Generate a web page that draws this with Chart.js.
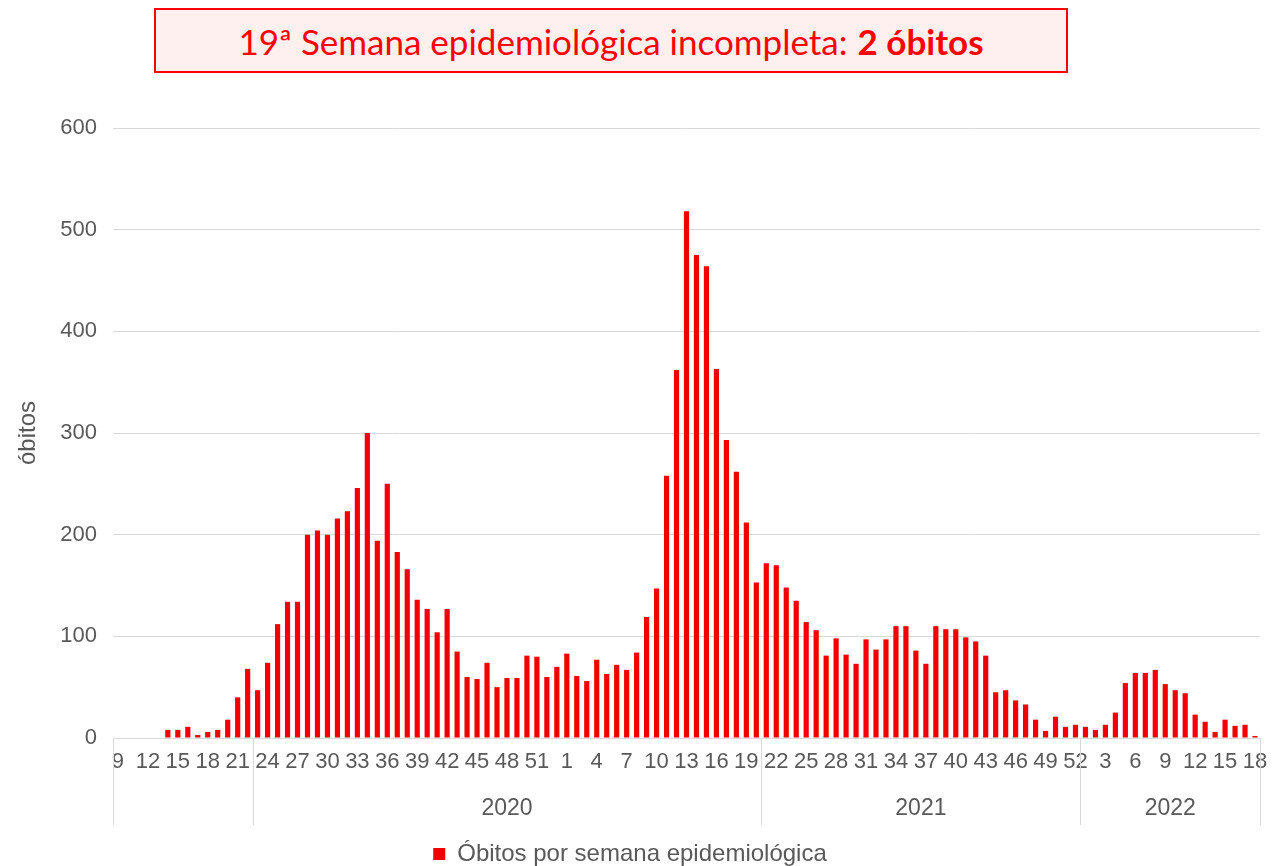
<!DOCTYPE html>
<html>
<head>
<meta charset="utf-8">
<script src="https://cdn.jsdelivr.net/npm/chart.js@4.4.0/dist/chart.umd.min.js"></script>
<style>
  html, body { margin: 0; padding: 0; background: #ffffff; overflow: hidden; }
  #wrap { position: relative; width: 1275px; height: 866px; }
  #c { position: absolute; left: 0; top: 0; }
  #titlebox {
    position: absolute; left: 154px; top: 8px; width: 914px; height: 65px;
    box-sizing: border-box; border: 2px solid #ff0000; background: #fff0f0;
    color: #ff0000; font-family: Lato, "Open Sans", sans-serif; font-size: 35px;
    display: flex; align-items: center; justify-content: center; white-space: nowrap;
  }
  #titlebox b { font-weight: 700; margin-left: 10px; }
</style>
</head>
<body>
<div id="wrap">
  <canvas id="c" width="1275" height="866"></canvas>
  <div id="titlebox"><span>19ª Semana epidemiológica incompleta:</span><b>2 óbitos</b></div>
</div>
<script>
// ---- Data ----
// Group 1 (no year label): 2020 weeks 9-22
const weeksA  = [9,10,11,12,13,14,15,16,17,18,19,20,21,22];
const valuesA = [0,0,0,0,0,8,8,11,3,6,8,18,40,68];
// Group "2020": 2020 weeks 23-53 and 2021 weeks 1-20
const weeksB  = [23,24,25,26,27,28,29,30,31,32,33,34,35,36,37,38,39,40,41,42,43,44,45,46,47,48,49,50,51,52,53,
                 1,2,3,4,5,6,7,8,9,10,11,12,13,14,15,16,17,18,19,20];
const valuesB = [47,74,112,134,134,200,204,200,216,223,246,300,194,250,183,166,136,127,104,127,85,60,58,74,50,59,59,81,80,60,70,
                 83,61,56,77,63,72,67,84,119,147,258,362,518,475,464,363,293,262,212,153];
// Group "2021": 2021 weeks 21-52
const weeksC  = [21,22,23,24,25,26,27,28,29,30,31,32,33,34,35,36,37,38,39,40,41,42,43,44,45,46,47,48,49,50,51,52];
const valuesC = [172,170,148,135,114,106,81,98,82,73,97,87,97,110,110,86,73,110,107,107,99,95,81,45,47,37,33,18,7,21,11,13];
// Group "2022": 2022 weeks 1-18
const weeksD  = [1,2,3,4,5,6,7,8,9,10,11,12,13,14,15,16,17,18];
const valuesD = [11,8,13,25,54,64,64,67,53,47,44,23,16,6,18,12,13,2];

const groupLabels = ['', '2020', '2021', '2022'];
const groupWeeks  = [weeksA, weeksB, weeksC, weeksD];

const yTicks = [0, 100, 200, 300, 400, 500, 600];
const seriesName = 'Óbitos por semana epidemiológica';
const yTitle = 'óbitos';

const categories = [].concat(weeksA, weeksB, weeksC, weeksD).map(String);
const obitos = [].concat(valuesA, valuesB, valuesC, valuesD);

const FONT = '"Liberation Sans", Arial, sans-serif';
const GREY = '#595959';
const GRID = '#d9d9d9';
const RED = '#f20000';

const groupPlugin = {
  id: 'yearGroups',
  afterDraw(chart) {
    const xs = chart.scales.x, ca = chart.chartArea, ctx = chart.ctx;
    const total = categories.length;
    const bounds = [ca.left];
    let idx = 0;
    groupWeeks.forEach(w => {
      idx += w.length;
      if (idx >= total) bounds.push(ca.right);
      else bounds.push((xs.getPixelForValue(idx - 1) + xs.getPixelForValue(idx)) / 2);
    });
    ctx.save();
    ctx.strokeStyle = GRID; ctx.lineWidth = 1;
    bounds.forEach(b => {
      const xx = Math.round(b) + 0.5;
      ctx.beginPath(); ctx.moveTo(xx, ca.bottom); ctx.lineTo(xx, ca.bottom + 87); ctx.stroke();
    });
    ctx.fillStyle = GREY; ctx.font = '23px ' + FONT;
    ctx.textAlign = 'center'; ctx.textBaseline = 'middle';
    groupLabels.forEach((l, i) => { if (l) ctx.fillText(l, (bounds[i] + bounds[i + 1]) / 2, ca.bottom + 71); });
    ctx.restore();
  }
};

new Chart(document.getElementById('c'), {
  type: 'bar',
  data: {
    labels: categories,
    datasets: [{
      label: seriesName,
      data: obitos,
      backgroundColor: RED,
      borderWidth: 0,
      categoryPercentage: 1.0,
      barPercentage: 0.52
    }]
  },
  options: {
    responsive: false,
    animation: false,
    devicePixelRatio: 1,
    layout: { padding: { top: 128, right: 15, bottom: -10, left: 0 } },
    plugins: {
      legend: {
        position: 'bottom',
        labels: { boxWidth: 12, boxHeight: 12, color: GREY, font: { family: FONT, size: 24 }, padding: 10 }
      },
      title: { display: false },
      tooltip: { enabled: false }
    },
    scales: {
      x: {
        grid: { display: false, drawTicks: false },
        border: { display: true, color: GRID },
        ticks: {
          autoSkip: false, maxRotation: 0, minRotation: 0, padding: 7,
          color: GREY, font: { family: FONT, size: 22, lineHeight: '34px' },
          callback(v, i) { return i % 3 === 0 ? categories[i] : ''; }
        },
        afterFit(s) { s.height = 94; }
      },
      y: {
        min: 0, max: 600,
        afterBuildTicks(s) { s.ticks = yTicks.map(v => ({ value: v })); },
        grid: { color: GRID, drawTicks: false },
        border: { display: false },
        ticks: { padding: 16, color: GREY, font: { family: FONT, size: 22 } },
        title: { display: true, text: yTitle, color: GREY, font: { family: FONT, size: 24 }, padding: { top: 14, bottom: 0 } },
        afterFit(s) { s.width = 113; }
      }
    }
  },
  plugins: [groupPlugin]
});
</script>
</body>
</html>
